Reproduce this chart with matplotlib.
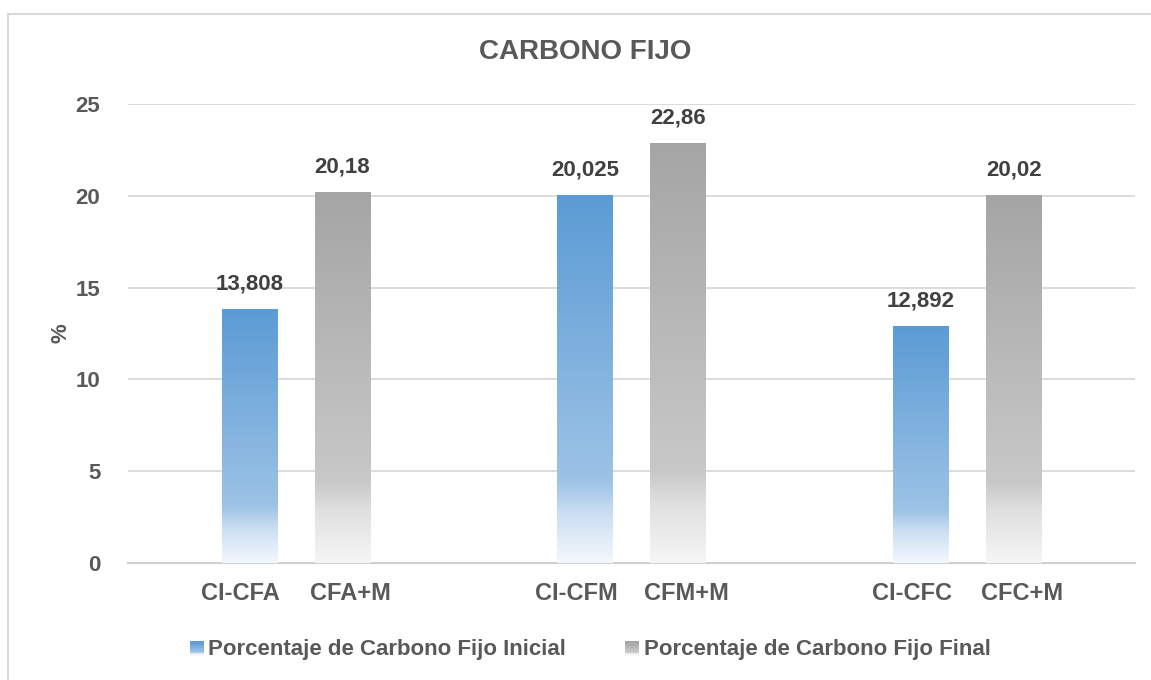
import numpy as np
import matplotlib.pyplot as plt
from matplotlib.colors import LinearSegmentedColormap
from matplotlib.patches import Rectangle
from matplotlib.legend_handler import HandlerBase

plt.rcParams['font.family'] = ['Liberation Sans', 'DejaVu Sans']
plt.rcParams['font.weight'] = 'bold'

groups = ['CFA', 'CFM', 'CFC']
labels_ini = ['CI-CFA', 'CI-CFM', 'CI-CFC']
labels_fin = ['CFA+M', 'CFM+M', 'CFC+M']
inicial = [13.808, 20.025, 12.892]
final = [20.18, 22.86, 20.02]
txt_ini = ['13,808', '20,025', '12,892']
txt_fin = ['20,18', '22,86', '20,02']
series = ['Porcentaje de Carbono Fijo Inicial', 'Porcentaje de Carbono Fijo Final']

blue_cmap = LinearSegmentedColormap.from_list(
    'b', [(0, '#5B9BD5'), (0.78, '#9DC3E6'), (0.86, '#C9DDF2'), (1, '#F4F8FD')])
gray_cmap = LinearSegmentedColormap.from_list(
    'g', [(0, '#A5A5A5'), (0.78, '#C8C8C8'), (0.86, '#E0E0E0'), (1, '#F6F6F6')])

fig = plt.figure(figsize=(11.51, 6.80), dpi=100)
fig.patches.append(Rectangle((8 / 1151, -0.1), 1.2, 1.1 - 14 / 680,
                             transform=fig.transFigure, fill=False,
                             edgecolor='#D9D9D9', linewidth=1.5))
ax = fig.add_axes([128 / 1151, 1 - 563 / 680, 1007 / 1151, 459 / 680])

x = np.arange(len(groups))
off = 0.1385
w = 0.164
grad = np.linspace(0, 1, 256).reshape(-1, 1)


def gradient_bars(xs, vals, cmap):
    bars = ax.bar(xs, vals, width=w, color='none', edgecolor='none', zorder=3)
    for b in bars:
        x0, y0 = b.get_x(), b.get_y()
        ax.imshow(grad, cmap=cmap, aspect='auto', zorder=3,
                  extent=(x0, x0 + b.get_width(), y0, y0 + b.get_height()),
                  origin='upper', interpolation='bicubic')
    return bars


b1 = gradient_bars(x - off, inicial, blue_cmap)
b2 = gradient_bars(x + off, final, gray_cmap)

for b, t in zip(list(b1) + list(b2), txt_ini + txt_fin):
    ax.annotate(t, (b.get_x() + b.get_width() / 2, b.get_height()),
                xytext=(0, 11), textcoords='offset points', ha='center',
                va='bottom', fontsize=16, color='#404040', fontweight='bold')

ax.set_xlim(-0.5, 2.5)
ax.set_ylim(0, 25)
ax.set_yticks([0, 5, 10, 15, 20, 25])
ax.yaxis.grid(True, color='#D9D9D9', linewidth=1.3, zorder=0)
ax.set_axisbelow(True)
for s in ['top', 'right', 'left']:
    ax.spines[s].set_visible(False)
ax.spines['bottom'].set_color('#D0D0D0')
ax.spines['bottom'].set_linewidth(1.5)

tick_off = 0.164
ax.set_xticks(list(x - tick_off) + list(x + tick_off))
ax.set_xticklabels(labels_ini + labels_fin)
ax.tick_params(axis='x', length=0, labelsize=17, labelcolor='#595959', pad=14)
ax.tick_params(axis='y', length=0, labelsize=16, labelcolor='#595959', pad=20)
ax.set_ylabel('%', fontsize=16, color='#595959', fontweight='bold', labelpad=3)

fig.text(0.508, 1 - 52 / 680, 'CARBONO FIJO', fontsize=20, color='#595959',
         fontweight='bold', ha='center', va='center')


class GradHandler(HandlerBase):
    def __init__(self, cmap):
        super().__init__()
        self.cmap = cmap

    def create_artists(self, legend, orig_handle, xdescent, ydescent,
                       width, height, fontsize, trans):
        n = 12
        s = height * 0.9
        x0 = width - s
        arts = []
        for i in range(n):
            c = self.cmap(i / (n - 1))
            arts.append(Rectangle((x0, s - (i + 1) * s / n), s, s / n + 0.2,
                                  facecolor=c, edgecolor='none', transform=trans))
        return arts


h1 = Rectangle((0, 0), 1, 1)
h2 = Rectangle((0, 0), 1, 1)
fig.legend([h1, h2], series, loc='center', bbox_to_anchor=(0.512, 1 - 650 / 680),
           ncol=2, frameon=False, fontsize=16, labelcolor='#595959',
           handler_map={h1: GradHandler(blue_cmap), h2: GradHandler(gray_cmap)},
           handlelength=0.7, handletextpad=0.2, columnspacing=2.6)

fig.savefig('out.png', dpi=100)
